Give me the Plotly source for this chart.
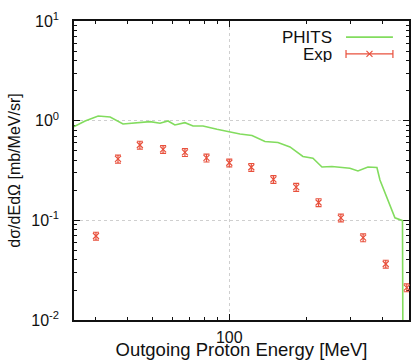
import numpy as np
import plotly.graph_objects as go

# PHITS calculation (line)
phits_e = [24.5, 27.2, 30.6, 34.1, 38.3, 43.5, 48.9, 53.5, 57.5, 61.2, 67.0, 72.1,
           78.9, 89.5, 100.0, 110.2, 122.8, 138.0, 155.2, 173.0, 194.5, 212.9,
           231.0, 252.8, 297.3, 319.7, 349.9, 379.5, 390.0, 419.4, 446.5, 478.0, 480.0]
phits_v = [0.865, 0.993, 1.115, 1.089, 0.927, 0.959, 0.977, 0.942, 0.993, 0.906, 0.955, 0.885,
           0.885, 0.820, 0.770, 0.736, 0.711, 0.618, 0.604, 0.545, 0.437, 0.420,
           0.343, 0.347, 0.333, 0.313, 0.343, 0.339, 0.254, 0.160, 0.106, 0.0993, 0.005]

# Experimental data
exp_e = [30.0, 36.6, 44.6, 55.0, 67.0, 81.4, 100.0, 122.0, 149.0, 183.0, 224.0, 274.0, 335.0, 411.0, 497.0]
exp_v = [0.0697, 0.413, 0.570, 0.516, 0.480, 0.423, 0.378, 0.341, 0.258, 0.215, 0.151, 0.106, 0.067, 0.0365, 0.0211]
exp_err_frac = 0.09

y_tickvals = [0.01, 0.1, 1, 10]
y_ticktext = ["10<sup>-2</sup>", "10<sup>-1</sup>", "10<sup>0</sup>", "10<sup>1</sup>"]
x_tickvals = [100]
x_ticktext = ["100"]

GREEN = "#82dc5e"
RED = "#e8503c"
FONT = "Liberation Sans"

fig = go.Figure()
fig.add_trace(go.Scatter(x=phits_e, y=phits_v, mode="lines", cliponaxis=True,
                         line=dict(color=GREEN, width=1.6), name="PHITS", showlegend=False))
fig.add_trace(go.Scatter(x=exp_e, y=exp_v, mode="markers", name="Exp", showlegend=False, cliponaxis=False,
                         marker=dict(symbol="x-thin", size=6, line=dict(color=RED, width=1.2), color=RED),
                         error_y=dict(type="percent", value=exp_err_frac * 100, color=RED,
                                      thickness=1.2, width=3)))

yminor = [m * 10.0 ** k for k in (-2, -1, 0) for m in range(2, 10)]
xminor = [30, 40, 50, 60, 70, 80, 90, 200, 300, 400]

axis_common = dict(showline=True, linecolor="#111", linewidth=1.5, mirror="ticks",
                   ticks="inside", ticklen=6, tickcolor="#111", tickwidth=1,
                   showgrid=True, gridcolor="#cfcfcf", griddash="dot", gridwidth=1,
                   zeroline=False, automargin=False, layer="below traces",
                   tickfont=dict(family=FONT, size=16, color="#111"))

fig.update_xaxes(type="log", range=[np.log10(24.6), np.log10(507)],
                 tickmode="array", tickvals=x_tickvals, ticktext=x_ticktext,
                 minor=dict(tickmode="array", tickvals=xminor, ticks="inside", ticklen=3,
                            tickcolor="#111", showgrid=False),
                 ticklabelstandoff=2,
                 title=dict(text="Outgoing Proton Energy [MeV]", font=dict(family=FONT, size=18.5, color="#111"),
                            standoff=3),
                 **axis_common)
fig.update_yaxes(type="log", range=[-2, 1],
                 tickmode="array", tickvals=y_tickvals, ticktext=y_ticktext,
                 minor=dict(tickmode="array", tickvals=yminor, ticks="inside", ticklen=3,
                            tickcolor="#111", showgrid=False),
                 ticklabelstandoff=10,
                 title=dict(text="dσ/dEdΩ [mb/MeV/sr]", font=dict(family=FONT, size=16, color="#111"),
                            standoff=7),
                 **axis_common)

# custom gnuplot-style legend (text on the left, sample on the right)
lx0, lx1 = 0.812, 0.952
fig.add_annotation(x=0.773, y=0.946, xref="paper", yref="paper", text="PHITS", showarrow=False,
                   xanchor="right", yanchor="middle", borderpad=0, height=16,
                   font=dict(family=FONT, size=17, color="#111"))
fig.add_annotation(x=0.773, y=0.888, xref="paper", yref="paper", text="Exp", showarrow=False,
                   xanchor="right", yanchor="middle", borderpad=0, height=16,
                   font=dict(family=FONT, size=17, color="#111"))
fig.add_shape(type="line", xref="paper", yref="paper", x0=lx0, x1=lx1, y0=0.946, y1=0.946,
              line=dict(color=GREEN, width=1.6))
fig.add_shape(type="line", xref="paper", yref="paper", x0=lx0, x1=lx1, y0=0.890, y1=0.890,
              line=dict(color=RED, width=1.2))
for xa in (lx0, lx1):
    fig.add_shape(type="line", xref="paper", yref="paper", xsizemode="pixel", ysizemode="pixel",
                  xanchor=xa, yanchor=0.890, x0=0, x1=0, y0=-4, y1=4, line=dict(color=RED, width=1.2))
for s in (1, -1):
    fig.add_shape(type="line", xref="paper", yref="paper", xsizemode="pixel", ysizemode="pixel",
                  xanchor=(lx0 + lx1) / 2, yanchor=0.890, x0=-3, x1=3, y0=-3 * s, y1=3 * s,
                  line=dict(color=RED, width=1.2))

fig.update_layout(width=414, height=360, margin=dict(l=74, r=5, t=21, b=40, autoexpand=False),
                  paper_bgcolor="white", plot_bgcolor="white",
                  font=dict(family=FONT, color="#111"), showlegend=False)

fig.write_html("out.html", config={"displayModeBar": False},
               post_script="document.body.style.margin='0';document.body.style.padding='0';")
